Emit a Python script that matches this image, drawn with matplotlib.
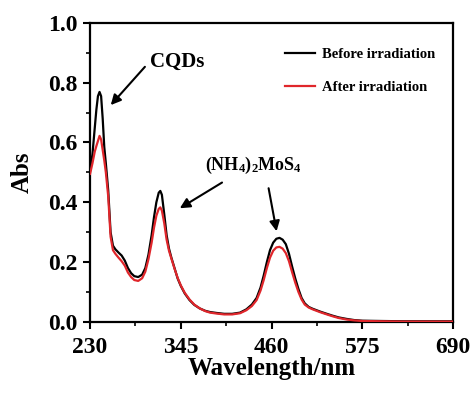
import matplotlib
matplotlib.use("Agg")
import matplotlib.pyplot as plt

plt.rcParams['font.family'] = ['Liberation Serif', 'DejaVu Serif']
plt.rcParams['font.weight'] = 'bold'
plt.rcParams['mathtext.fontset'] = 'custom'
plt.rcParams['mathtext.bf'] = 'Liberation Serif:bold'
plt.rcParams['mathtext.rm'] = 'Liberation Serif:bold'
plt.rcParams['mathtext.default'] = 'bf'

# wavelength, nm
wl = [230, 233, 236, 238, 240, 242, 244, 246, 248, 250, 253, 256, 259, 262, 266,
      270, 274, 278, 282, 286, 291, 296, 300, 304, 308, 311, 314, 317, 319, 321,
      324, 327, 330, 333, 337, 341, 345, 350, 356, 362, 369, 376, 382, 390, 400,
      410, 420, 428, 435, 441, 446, 450, 454, 458, 462, 466, 470, 474, 478, 482,
      486, 490, 494, 498, 502, 507, 512, 517, 522, 530, 537, 545, 555, 565, 575,
      600, 630, 660, 690]

# absorbance before irradiation
before = [0.505, 0.56, 0.65, 0.71, 0.755, 0.769, 0.755, 0.68, 0.585, 0.53, 0.44, 0.30,
          0.255, 0.243, 0.232, 0.222, 0.205, 0.18, 0.163, 0.153, 0.150, 0.158, 0.18,
          0.225, 0.29, 0.35, 0.40, 0.432, 0.438, 0.425, 0.36, 0.29, 0.245, 0.215, 0.18,
          0.145, 0.12, 0.095, 0.073, 0.057, 0.045, 0.037, 0.033, 0.03, 0.027, 0.027,
          0.031, 0.042, 0.058, 0.08, 0.115, 0.155, 0.2, 0.24, 0.265, 0.278, 0.281,
          0.275, 0.26, 0.228, 0.185, 0.145, 0.11, 0.08, 0.062, 0.05, 0.044, 0.039,
          0.034, 0.027, 0.021, 0.015, 0.01, 0.006, 0.004, 0.003, 0.002, 0.002, 0.002]

# absorbance after irradiation
after = [0.495, 0.53, 0.57, 0.588, 0.605, 0.622, 0.61, 0.575, 0.54, 0.5, 0.42, 0.285,
         0.24, 0.228, 0.215, 0.203, 0.188, 0.165, 0.15, 0.14, 0.137, 0.146, 0.168,
         0.21, 0.265, 0.315, 0.355, 0.378, 0.383, 0.372, 0.33, 0.275, 0.238, 0.212,
         0.178, 0.147, 0.122, 0.097, 0.075, 0.058, 0.045, 0.036, 0.031, 0.028, 0.025,
         0.025, 0.029, 0.039, 0.053, 0.073, 0.105, 0.14, 0.18, 0.215, 0.238, 0.249,
         0.251, 0.245, 0.23, 0.203, 0.166, 0.131, 0.1, 0.075, 0.058, 0.048, 0.042,
         0.037, 0.032, 0.025, 0.019, 0.013, 0.008, 0.005, 0.003, 0.002, 0.001, 0.001,
         0.001]

xticks = [230, 345, 460, 575, 690]
yticks = [0.0, 0.2, 0.4, 0.6, 0.8, 1.0]

fig = plt.figure(figsize=(4.74, 3.94), dpi=100)
ax = fig.add_axes([0.190, 0.183, 0.766, 0.759])

ax.plot(wl, before, color='black', lw=1.6, label='Before irradiation', zorder=3)
ax.plot(wl, after, color='#e0262b', lw=1.6, label='After irradiation', zorder=4)

ax.set_xlim(230, 690)
ax.set_ylim(0, 1.0)
ax.set_xticks(xticks)
ax.set_xticks([287.5, 402.5, 517.5, 632.5], minor=True)
ax.set_yticks(yticks)
ax.set_yticks([0.1, 0.3, 0.5, 0.7, 0.9], minor=True)
ax.set_yticklabels(['%.1f' % v for v in yticks])
ax.tick_params(which='major', direction='out', length=5, width=1.5, labelsize=17, pad=4)
ax.tick_params(which='minor', direction='out', length=3, width=1.2)
ax.tick_params(axis='x', which='major', pad=6)
for s in ax.spines.values():
    s.set_linewidth(1.6)

ax.set_xlabel('Wavelength/nm', fontsize=18, fontweight='bold', labelpad=-1)
ax.set_ylabel('Abs', fontsize=18, fontweight='bold', labelpad=10)

ax.legend(loc='upper left', bbox_to_anchor=(0.537, 0.915), frameon=False,
          fontsize=10.5, borderpad=0, borderaxespad=0, handlelength=2.06,
          handletextpad=0.46, labelspacing=1.35)

arrow = dict(arrowstyle='-|>', color='black', lw=1.5, mutation_scale=15,
             shrinkA=0, shrinkB=0)
ax.annotate('', xy=(256.2, 0.725), xytext=(299.5, 0.853), arrowprops=arrow)
ax.text(305.8, 0.870, 'CQDs', fontsize=15, fontweight='bold', ha='left', va='center')

ax.text(375.3, 0.524, r'(NH$_4$)$_2$MoS$_4$', fontsize=13, fontweight='bold',
        ha='left', va='center')
ax.annotate('', xy=(343.7, 0.380), xytext=(397.2, 0.466), arrowprops=arrow)
ax.annotate('', xy=(466.3, 0.303), xytext=(456.2, 0.447), arrowprops=arrow)

fig.savefig('out.png', dpi=100)
